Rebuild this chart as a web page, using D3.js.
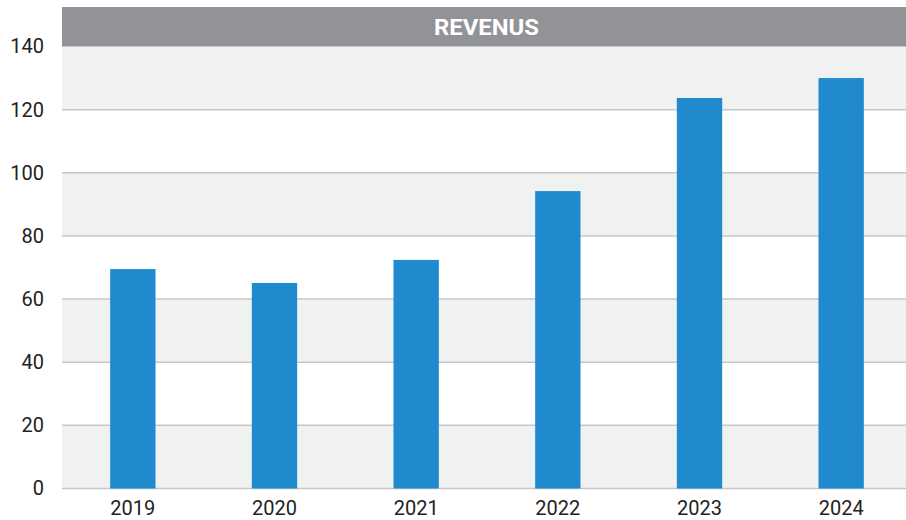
<!DOCTYPE html>
<html>
<head>
<meta charset="utf-8">
<script src="https://cdn.jsdelivr.net/npm/d3@7"></script>
<style>
  body { margin: 0; background: #ffffff; }
  svg text { font-family: Roboto, "Noto Sans", sans-serif; }
</style>
</head>
<body>
<div id="vis"></div>
<script>
// chart data
const YEARS = ["2019", "2020", "2021", "2022", "2023", "2024"];
const REVENUES = [69.5, 65.1, 72.4, 94.2, 123.7, 130.0];
const Y_TICKS = [0, 20, 40, 60, 80, 100, 120, 140];
const TITLE = "REVENUS";

// frame
const FRAME_WIDTH = 906;
const FRAME_HEIGHT = 520;
const MARGINS = {left: 62, right: -6, top: 46.5, bottom: 31.5};

const FRAME = d3.select("#vis")
                .append("svg")
                  .attr("width", FRAME_WIDTH)
                  .attr("height", FRAME_HEIGHT);

const X_SCALE = d3.scaleBand()
                  .domain(YEARS)
                  .range([MARGINS.left, FRAME_WIDTH - MARGINS.right])
                  .paddingInner(0.68)
                  .paddingOuter(0.34);

const Y_SCALE = d3.scaleLinear()
                  .domain([0, 140])
                  .range([FRAME_HEIGHT - MARGINS.bottom, MARGINS.top]);

// alternating background bands (grey on odd bands from the bottom)
const BANDS = d3.pairs(Y_TICKS);
FRAME.selectAll(".band")
     .data(BANDS)
     .enter()
     .append("rect")
       .attr("class", "band")
       .attr("x", MARGINS.left)
       .attr("width", FRAME_WIDTH - MARGINS.left)
       .attr("y", (d) => { return Y_SCALE(d[1]); })
       .attr("height", (d) => { return Y_SCALE(d[0]) - Y_SCALE(d[1]); })
       .attr("fill", (d, i) => { return i % 2 === 0 ? "#f0f1f1" : "#ffffff"; });

// grid lines
FRAME.selectAll(".grid")
     .data(Y_TICKS.slice(0, -1))
     .enter()
     .append("line")
       .attr("class", "grid")
       .attr("x1", MARGINS.left)
       .attr("x2", FRAME_WIDTH)
       .attr("y1", (d) => { return Y_SCALE(d); })
       .attr("y2", (d) => { return Y_SCALE(d); })
       .attr("stroke", "#c6c7c9")
       .attr("stroke-width", 1.5);

// title bar
FRAME.append("rect")
     .attr("x", MARGINS.left)
     .attr("y", 7)
     .attr("width", FRAME_WIDTH - MARGINS.left)
     .attr("height", MARGINS.top - 7)
     .attr("fill", "#929396");

FRAME.append("text")
     .attr("x", 486.5)
     .attr("y", 34.5)
     .attr("text-anchor", "middle")
     .attr("font-size", "22px")
     .attr("font-weight", "bold")
     .attr("fill", "#ffffff")
     .attr("textLength", 105)
     .attr("lengthAdjust", "spacingAndGlyphs")
     .text(TITLE);

// bars
FRAME.selectAll(".bar")
     .data(REVENUES)
     .enter()
     .append("rect")
       .attr("class", "bar")
       .attr("x", (d, i) => { return X_SCALE(YEARS[i]); })
       .attr("width", X_SCALE.bandwidth())
       .attr("y", (d) => { return Y_SCALE(d); })
       .attr("height", (d) => { return Y_SCALE(0) - Y_SCALE(d); })
       .attr("fill", "#1f8bce");

// y axis labels
const Y_AXIS = FRAME.append("g")
     .attr("transform", "translate(" + (MARGINS.left - 18) + ",0)")
     .call(d3.axisLeft(Y_SCALE).tickValues(Y_TICKS).tickSize(0).tickPadding(0));
Y_AXIS.select(".domain").remove();
Y_AXIS.selectAll("text")
      .attr("font-size", "20px")
      .attr("fill", "#222222")
      .attr("font-family", "Roboto, sans-serif");

// x axis labels
const X_AXIS = FRAME.append("g")
     .attr("transform", "translate(0," + Y_SCALE(0) + ")")
     .call(d3.axisBottom(X_SCALE).tickSize(0).tickPadding(12));
X_AXIS.select(".domain").remove();
X_AXIS.selectAll("text")
      .attr("font-size", "20px")
      .attr("fill", "#222222")
      .attr("font-family", "Roboto, sans-serif");
</script>
</body>
</html>
